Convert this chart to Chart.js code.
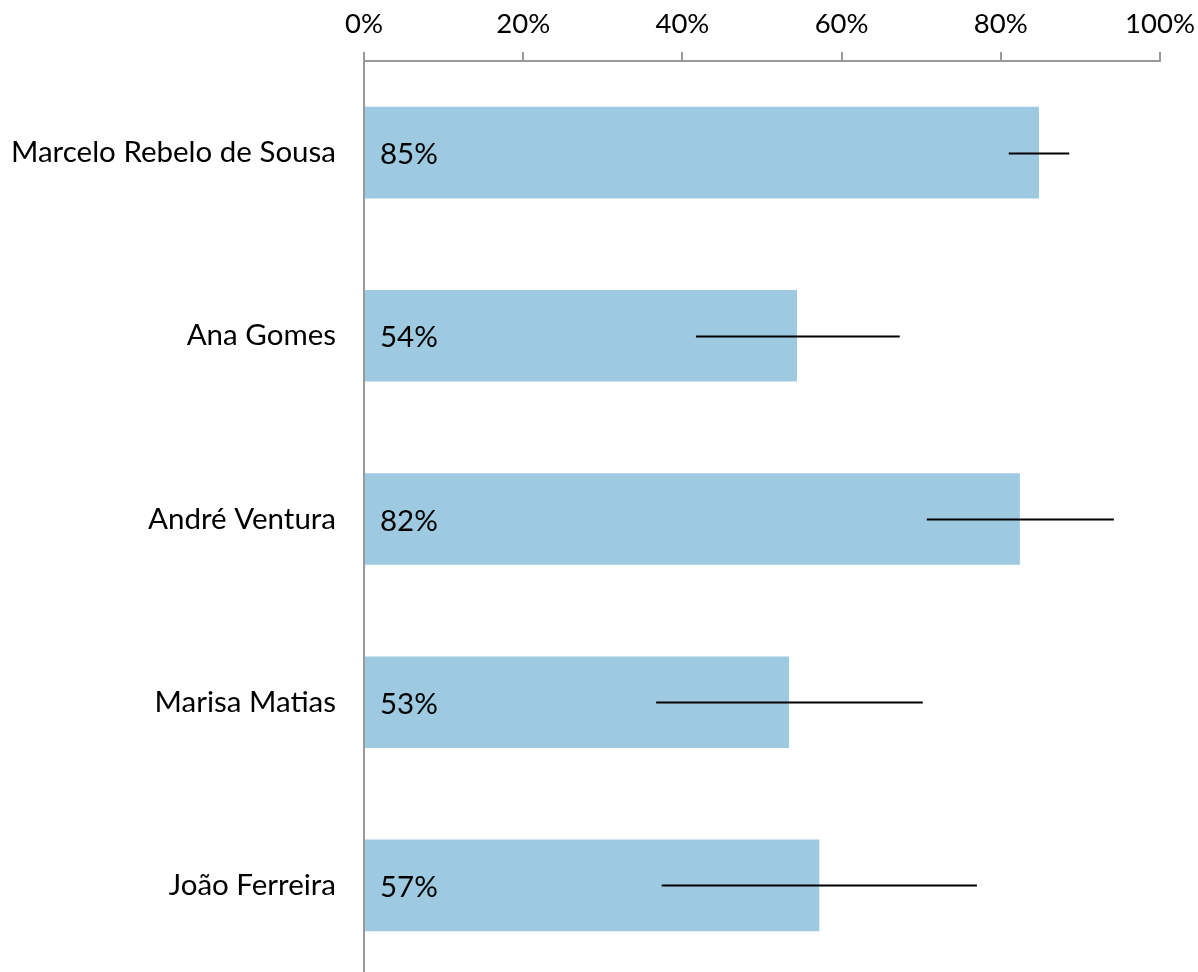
<!DOCTYPE html>
<html>
<head>
<meta charset="utf-8">
<script src="https://cdn.jsdelivr.net/npm/chart.js@4.4.0/dist/chart.umd.min.js"></script>
<style>
  html, body { margin: 0; padding: 0; background: #fff; overflow: hidden; }
</style>
</head>
<body>
<canvas id="chart" width="1198" height="980"></canvas>
<script>
// categorias e valores
const candidatos = ["Marcelo Rebelo de Sousa", "Ana Gomes", "André Ventura", "Marisa Matias", "João Ferreira"];
const valores = [84.8, 54.4, 82.4, 53.4, 57.2];
const erroMin = [81, 41.7, 70.7, 36.7, 37.4];
const erroMax = [88.6, 67.3, 94.2, 70.2, 77];
const xTicks = [0, 20, 40, 60, 80, 100];

const FONT = "Lato, 'Noto Sans', sans-serif";

// linhas de erro + rótulos dentro das barras
const extras = {
  id: "extras",
  afterDatasetsDraw(chart) {
    const ctx = chart.ctx;
    const x = chart.scales.x, y = chart.scales.y;
    ctx.save();
    // rótulos
    ctx.fillStyle = "#000";
    ctx.font = "29.5px " + FONT;
    ctx.textAlign = "left";
    ctx.textBaseline = "middle";
    valores.forEach((v, i) => {
      ctx.fillText(Math.round(v) + "%", x.getPixelForValue(0) + 16, y.getPixelForValue(i) + 2);
    });
    // erros
    ctx.strokeStyle = "#000";
    ctx.lineWidth = 2;
    erroMin.forEach((lo, i) => {
      const py = Math.round(y.getPixelForValue(i)) + 0.5;
      ctx.beginPath();
      ctx.moveTo(x.getPixelForValue(lo), py);
      ctx.lineTo(x.getPixelForValue(erroMax[i]), py);
      ctx.stroke();
    });
    ctx.restore();
  },
};

new Chart(document.getElementById("chart"), {
  type: "bar",
  data: {
    labels: candidatos,
    datasets: [{
      data: valores,
      backgroundColor: "#9ecae1",
      categoryPercentage: 1,
      barPercentage: 0.5,
    }],
  },
  options: {
    indexAxis: "y",
    responsive: false,
    animation: false,
    layout: { padding: { top: 0, right: 38, bottom: 3, left: 0 } },
    plugins: { legend: { display: false }, tooltip: { enabled: false } },
    scales: {
      x: {
        position: "top",
        min: 0,
        max: 100,
        afterBuildTicks: (s) => { s.ticks = xTicks.map((v) => ({ value: v })); },
        afterFit: (s) => { s.height = 61; s.paddingLeft = 0; s.paddingRight = 0; },
        grid: { drawOnChartArea: false, drawTicks: true, tickLength: 9, color: "#999", lineWidth: 2 },
        border: { display: true, color: "#999", width: 2 },
        ticks: {
          color: "#000",
          padding: 11,
          font: { family: FONT, size: 27.5 },
          callback: (v) => v + "%",
        },
      },
      y: {
        afterFit: (s) => { s.width = 364; s.paddingTop = 0; s.paddingBottom = 0; },
        grid: { display: false, drawTicks: false },
        border: { display: true, color: "#999", width: 2 },
        ticks: {
          color: "#000",
          padding: 28,
          font: { family: FONT, size: 29.5 },
        },
      },
    },
  },
  plugins: [extras],
});
</script>
</body>
</html>
